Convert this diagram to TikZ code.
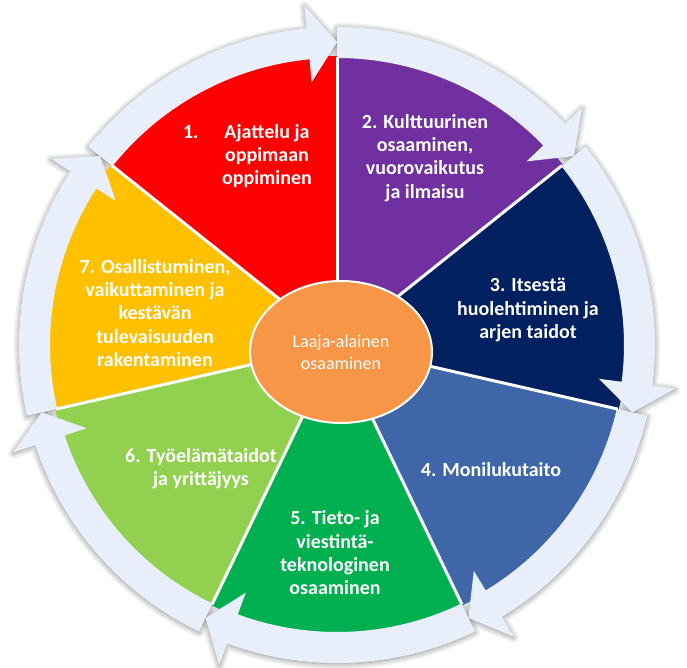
\documentclass[tikz,border=0pt]{standalone}
\usepackage{fontspec}
\setmainfont{Carlito}
\usetikzlibrary{shapes.geometric,shadows.blur}
\definecolor{cRed}{HTML}{FF0000}
\definecolor{cPurple}{HTML}{7030A0}
\definecolor{cNavy}{HTML}{002060}
\definecolor{cBlue}{HTML}{4066AA}
\definecolor{cGreen}{HTML}{00B050}
\definecolor{cLGreen}{HTML}{92D050}
\definecolor{cYellow}{HTML}{FFC000}
\definecolor{cOrange}{HTML}{F79646}
\definecolor{cRing}{HTML}{E9EFFA}
\tikzset{
  lbl/.style={text=white, font=\fontsize{20}{23.3}\selectfont\bfseries, align=center, inner sep=0pt},
  sep/.style={white, line width=3pt},
  ringarrow/.style={fill=cRing},
  ringshadow/.style={blur shadow={shadow blur radius=6pt, shadow xshift=0pt, shadow yshift=-1pt, shadow opacity=45, shadow blur steps=10}},
  hub/.style={ellipse, fill=cOrange, draw=white, line width=2pt, minimum width=182pt, minimum height=142pt, text=white, font=\fontsize{18}{22}\selectfont, align=center}
}
\newcommand{\arrowpath}[2]{%
  (#1:287pt) arc[start angle=#1, end angle=#2, radius=287pt]
  -- (#2:264pt) -- ({#2-5.5}:303pt) -- (#2:341pt) -- (#2:318pt)
  arc[start angle=#2, end angle=#1, radius=318pt] -- cycle}
\begin{document}
\begin{tikzpicture}[x=1pt,y=1pt]
\useasboundingbox (-337,-323) rectangle (350,345);
% shadows of ring arrows
\foreach \k in {1,...,7}{
  \pgfmathsetmacro\a{141.4286-51.4286*(\k-1)}
  \pgfmathsetmacro\c{\a-51.4286+5.5}
  \path[ringshadow] \arrowpath{\a}{\c};
}
% wedges
\foreach \k/\col in {1/cRed,2/cPurple,3/cNavy,4/cBlue,5/cGreen,6/cLGreen,7/cYellow}{
  \pgfmathsetmacro\a{141.4286-51.4286*(\k-1)}
  \pgfmathsetmacro\b{\a-51.4286}
  \fill[\col] (0,0) -- (\a:289pt) arc[start angle=\a, end angle=\b, radius=289pt] -- cycle;
}
% separators
\foreach \k in {1,...,7}{
  \pgfmathsetmacro\a{141.4286-51.4286*(\k-1)}
  \draw[sep] (0,0) -- (\a:288pt);
}
% ring arrows
\foreach \k in {1,...,7}{
  \pgfmathsetmacro\a{141.4286-51.4286*(\k-1)}
  \pgfmathsetmacro\c{\a-51.4286+5.5}
  \fill[ringarrow] \arrowpath{\a}{\c};
}
% hub
\node[hub] (hub) at (4,-7) {Laaja-alainen\\osaaminen};
% labels
\node[lbl] (t1) at (-70,189) {\llap{1.\hspace{26pt}}Ajattelu ja\\oppimaan\\oppiminen};
\node[lbl] (t2) at (88,187) {2. Kulttuurinen\\osaaminen,\\vuorovaikutus\\ja ilmaisu};
\node[lbl] (t3) at (191,35) {3. Itsestä\\huolehtiminen ja\\arjen taidot};
\node[lbl] (t4) at (154,-125) {4. Monilukutaito};
\node[lbl] (t5) at (-2,-208) {5. Tieto- ja\\viestintä-\\teknologinen\\osaaminen};
\node[lbl] (t6) at (-136,-124) {6. Työelämätaidot\\ja yrittäjyys};
\node[lbl] (t7) at (-182,32) {7. Osallistuminen,\\vaikuttaminen ja\\kestävän\\tulevaisuuden\\rakentaminen};
\end{tikzpicture}
\end{document}
